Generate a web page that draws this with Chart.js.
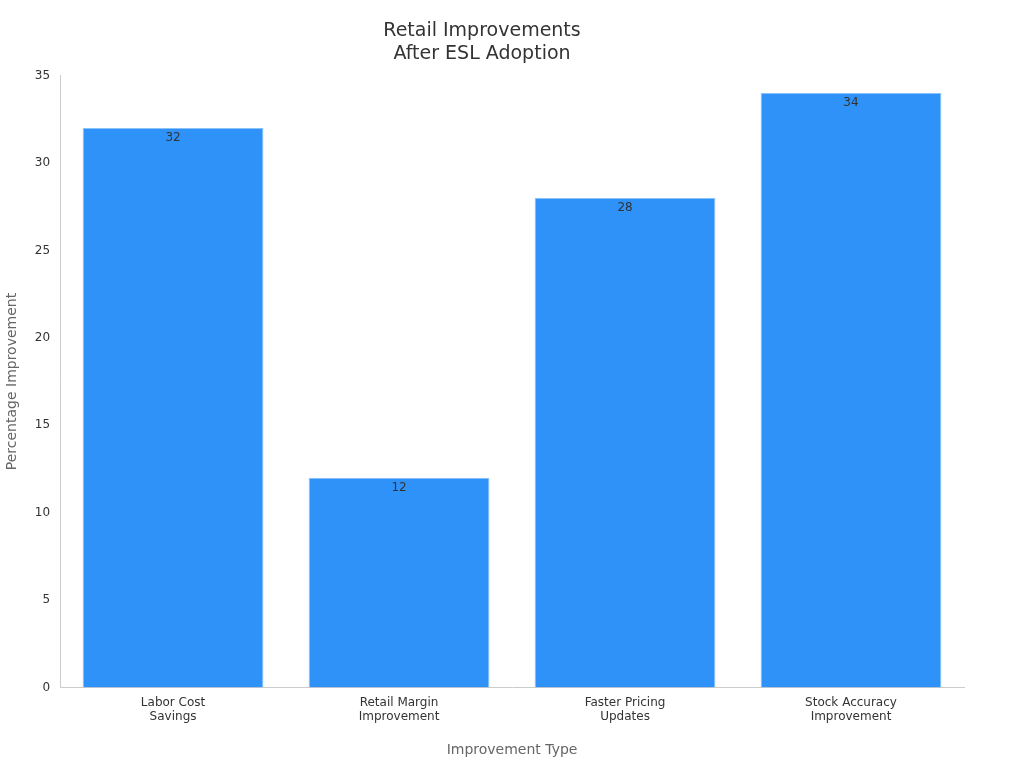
<!DOCTYPE html>
<html><head><meta charset="utf-8">
<script src="https://cdn.jsdelivr.net/npm/chart.js@4"></script>
<style>body{margin:0;background:#fff}#w{width:1024px;height:768px}</style>
</head><body><div id="w"><canvas id="c"></canvas></div>
<script>
const categories = [["Labor Cost","Savings"],["Retail Margin","Improvement"],["Faster Pricing","Updates"],["Stock Accuracy","Improvement"]];
const values = [32, 12, 28, 34];
const yTicks = [0,5,10,15,20,25,30,35];
const labelPlugin = {id:'lbl',afterDatasetsDraw(ch){const c=ch.ctx;const m=ch.getDatasetMeta(0);c.save();c.font='12px "DejaVu Sans"';c.fillStyle='#333';c.textAlign='center';c.textBaseline='top';m.data.forEach((b,i)=>c.fillText(values[i],b.x,b.y+4));c.restore();}};
Chart.defaults.font.family='"DejaVu Sans"';
new Chart(document.getElementById('c'),{type:'bar',
data:{labels:categories,datasets:[{data:values,backgroundColor:'#2f92f8',borderColor:'#8cc2fb',borderWidth:1,barPercentage:0.8,categoryPercentage:1}]},
options:{responsive:true,maintainAspectRatio:false,animation:false,
layout:{padding:{left:0,right:60,top:0,bottom:5}},
plugins:{legend:{display:false},tooltip:{enabled:false},
title:{display:true,text:['Retail Improvements','After ESL Adoption'],color:'#333',font:{size:19,weight:'normal'},padding:{top:20,bottom:10},lineHeight:1.35}},
scales:{
x:{grid:{display:false,drawTicks:false},border:{color:'#ccc'},ticks:{color:'#333',font:{size:12},padding:8},
title:{display:true,text:'Improvement Type',color:'#666',font:{size:14},padding:{top:10}}},
y:{min:0,max:35,afterBuildTicks(a){a.ticks=yTicks.map(v=>({value:v}));},grid:{display:false,drawTicks:true,tickLength:6,color:'#999'},border:{color:'#ccc'},ticks:{color:'#333',font:{size:12},padding:4},
title:{display:true,text:'Percentage Improvement',color:'#666',font:{size:14},padding:{bottom:10}}}}},
plugins:[labelPlugin,{id:'tk',beforeDraw(ch){}}]});
</script></body></html>
